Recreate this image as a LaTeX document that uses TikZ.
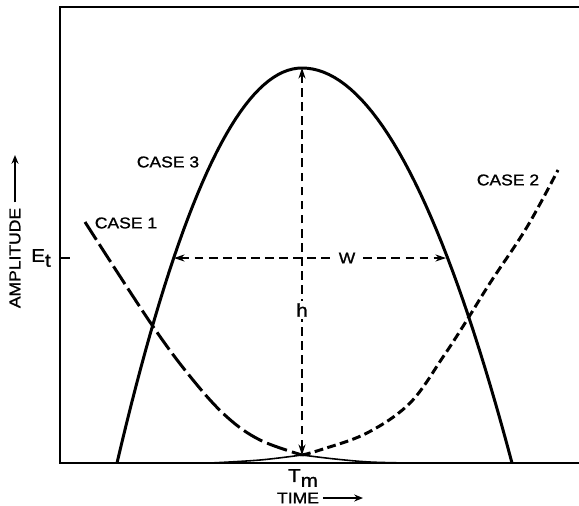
\documentclass[tikz,border=0pt]{standalone}
\usepackage{fontspec}
\newfontfamily\lettering[FakeStretch=1.12, FakeBold=1.2]{Liberation Sans}
\usetikzlibrary{arrows.meta}

\begin{document}
\begin{tikzpicture}[
  x=0.02cm, y=-0.02cm,
  lbl/.style={font=\lettering\fontsize{8.9}{10}\selectfont, inner sep=0pt},
  symb/.style={font=\lettering\fontsize{10.5}{12}\selectfont, inner sep=0pt},
  curve/.style={line width=1.7pt},
  tail/.style={line width=0.9pt},
  case1/.style={curve, dash pattern=on 12pt off 3pt},
  case2/.style={curve, dash pattern=on 5pt off 2.5pt},
  dim/.style={{Stealth[length=6pt,width=4pt]}-{Stealth[length=6pt,width=4pt]},
              line width=0.6pt, dash pattern=on 5pt off 3pt},
  axarrow/.style={-{Stealth[length=5pt,width=4pt]}, line width=1pt}
]
\useasboundingbox (0,0) rectangle (579,505);

% frame (open on the right)
\draw[line width=1pt] (579,7) -- (60,7) -- (60,463) -- (579,463);

% key points
\coordinate (peak) at (302,68);
\coordinate (tm) at (302,455);
\coordinate (wl) at (174,258);
\coordinate (wr) at (446,258);

% case 3 (parabola, wider on the right)
\draw[curve] plot[domain=-1:0, samples=40] ({302+185*\x},{68+395*\x*\x})
  -- plot[domain=0:1, samples=40] ({302+210*\x},{68+395*\x*\x});

% case 1
\draw[case1] plot[smooth, tension=0.6] coordinates {
  (85,222) (152,325) (193,380) (227,417) (260,440) (302,455)};
\draw[tail] plot[smooth, tension=0.6] coordinates {
  (302,455) (335,459) (370,462) (410,463)};

% case 2
\draw[tail] plot[smooth, tension=0.6] coordinates {
  (210,463) (260,460) (302,455)};
\draw[case2] plot[smooth, tension=0.6] coordinates {
  (302,455) (320,450) (367,433) (410,403) (443,357) (467,320) (490,283)
  (527,227) (558,170)};

% h and W
\draw[dim] (tm) -- (peak);
\draw[dim] (wl) -- (wr);
\node[symb, fill=white, inner sep=1.5pt] (hlbl) at (302,310) {h};
\node[lbl, fill=white, inner sep=3pt] (wlbl) at (347,258) {W};

% E_t level
\draw[line width=0.8pt] (60,258) -- (70,258);
\node[symb] (et) at (41,258) {E\raisebox{-0.5ex}{t}};

% curve labels
\node[lbl] (c3) at (168,162) {CASE 3};
\node[lbl] (c1) at (126,223) {CASE 1};
\node[lbl] (c2) at (508,180) {CASE 2};

% axis labels
\node[symb] (tmlbl) at (303,478) {T\raisebox{-0.5ex}{m}};
\node[lbl] (time) at (298,498) {TIME};
\coordinate (timeend) at (363,498);
\draw[axarrow] ([xshift=2pt]time.east) -- (timeend);

\node[lbl, rotate=90] (amp) at (15,258) {AMPLITUDE};
\coordinate (ampend) at (15,155);
\draw[axarrow] ([yshift=3pt]amp.east) -- (ampend);
\end{tikzpicture}
\end{document}
